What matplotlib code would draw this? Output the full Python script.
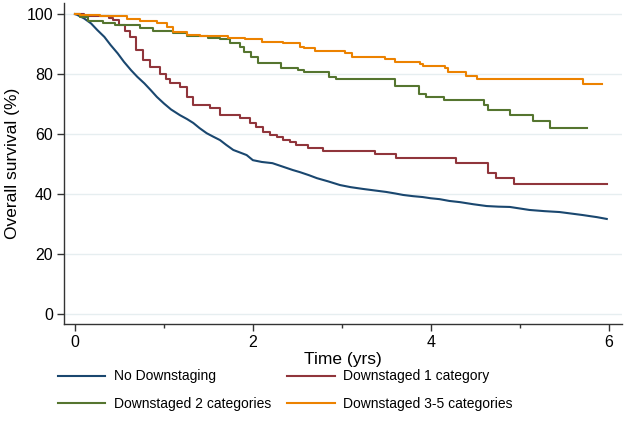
#!/usr/bin/env python3

import matplotlib
matplotlib.use("Agg")
import matplotlib.pyplot as plt

plt.rcParams['font.family'] = ['Liberation Sans', 'DejaVu Sans']

# Kaplan-Meier curves (time in years, survival in %)
t_none = [0, 0.02, 0.1, 0.18, 0.25, 0.33, 0.4, 0.48, 0.55, 0.63, 0.7, 0.78, 0.85, 0.92,
          1.0, 1.08, 1.18, 1.26, 1.33, 1.4, 1.48, 1.55, 1.63, 1.7, 1.78, 1.86, 1.93, 2.0,
          2.1, 2.22, 2.33, 2.45, 2.53, 2.63, 2.72, 2.85, 2.98, 3.1, 3.24, 3.37, 3.5,
          3.6, 3.69, 3.8, 3.91, 4.0, 4.1, 4.21, 4.33, 4.48, 4.63, 4.76, 4.89, 5.0,
          5.11, 5.28, 5.45, 5.58, 5.71, 5.8, 5.87, 5.98]
s_none = [100, 99.8, 98.6, 96.9, 94.7, 92.4, 89.7, 86.9, 84.1, 81.3, 79.1, 76.9, 74.7, 72.4,
          70.2, 68.2, 66.3, 65, 63.7, 62, 60.3, 59.2, 58, 56.4, 54.7, 53.8, 53, 51.3,
          50.7, 50.3, 49.2, 48, 47.3, 46.3, 45.3, 44.2, 43, 42.3, 41.7, 41.2, 40.7,
          40.2, 39.7, 39.3, 39, 38.6, 38.3, 37.7, 37.3, 36.6, 36, 35.8, 35.7, 35.2,
          34.7, 34.3, 34, 33.5, 33, 32.6, 32.3, 31.7]

t_one = [0, 0.1, 0.32, 0.38, 0.43, 0.5, 0.56, 0.62, 0.69, 0.77, 0.84, 0.96, 1.02, 1.07,
         1.18, 1.26, 1.33, 1.52, 1.63, 1.85, 1.97, 2.04, 2.11, 2.19, 2.27, 2.34, 2.42,
         2.49, 2.62, 2.79, 3.37, 3.61, 4.29, 4.64, 4.73, 4.94, 5.98]
s_one = [100, 99.3, 99.3, 98.6, 98, 96.3, 94.3, 92.3, 88, 84.7, 82.3, 80, 78.3, 77,
         75.7, 72.3, 69.7, 68.7, 66.3, 65.3, 63.7, 62.3, 60.7, 59.8, 59, 58.1, 57.3,
         56.3, 55.3, 54.3, 53.3, 52, 50.3, 47, 45.3, 43.3, 43.3]

t_two = [0, 0.06, 0.15, 0.32, 0.45, 0.73, 0.88, 1.1, 1.26, 1.5, 1.63, 1.74, 1.85, 1.9,
         1.98, 2.06, 2.32, 2.51, 2.58, 2.86, 2.94, 3.6, 3.87, 3.95, 4.15, 4.6, 4.65,
         4.89, 5.15, 5.34, 5.76]
s_two = [100, 99, 97.7, 97, 96.3, 95.3, 94.3, 93.7, 92.7, 92, 91.7, 90.3, 89, 87.3,
         85.7, 83.7, 82, 81.5, 80.7, 79, 78.3, 76, 73.5, 72.3, 71.3, 69.7, 68,
         66.3, 64.3, 62, 62]

t_three = [0, 0.06, 0.28, 0.58, 0.73, 0.92, 1.03, 1.1, 1.26, 1.4, 1.72, 1.91, 2.1, 2.34,
           2.53, 2.58, 2.7, 3.04, 3.12, 3.49, 3.6, 3.88, 3.91, 4.16, 4.2, 4.4, 4.52,
           5.71, 5.93]
s_three = [100, 99.7, 99.3, 98.3, 97.7, 97, 95.7, 94, 93, 92.7, 92, 91.7, 90.7, 90.3,
           89, 88.7, 87.7, 87, 85.7, 85, 84, 83.3, 82.7, 82, 80.7, 79.3, 78.3,
           76.7, 76.7]

labels = ['No Downstaging', 'Downstaged 1 category',
          'Downstaged 2 categories', 'Downstaged 3-5 categories']
colors = ['#1a476f', '#90353b', '#55752f', '#ec8200']
# the big group has so many events its curve looks smooth
styles = ['default', 'steps-post', 'steps-post', 'steps-post']

fig = plt.figure(figsize=(6.25, 4.3), dpi=100)
ax = fig.add_axes([0.1024, 0.2465, 0.8926, 0.7465])

series = [(t_none, s_none), (t_one, s_one), (t_two, s_two), (t_three, s_three)]
lines = []
for (t, s), lab, col, ds in zip(series, labels, colors, styles):
    ln, = ax.plot(t, s, drawstyle=ds, color=col, lw=1.5, label=lab)
    lines.append(ln)

ax.set_xlim(-0.124, 6.15)
ax.set_ylim(-3.33, 103.7)
ax.set_xticks([0, 2, 4, 6])
ax.set_xticks([1, 3, 5], minor=True)
ax.set_yticks([0, 20, 40, 60, 80, 100])
ax.yaxis.grid(True, color='#e6eef0', lw=1)
ax.set_axisbelow(True)

for side in ['top', 'right']:
    ax.spines[side].set_visible(False)
for side in ['left', 'bottom']:
    ax.spines[side].set_color('#333333')
    ax.spines[side].set_linewidth(1)

ax.tick_params(axis='both', which='major', length=5, width=1, color='#333333',
               labelsize=11.5, labelcolor='black', pad=3)
ax.tick_params(axis='x', which='minor', length=3, width=1, color='#333333')

ax.set_xlabel('Time (yrs)', fontsize=12.5, labelpad=1)
ax.set_ylabel('Overall survival (%)', fontsize=12.5)
ax.yaxis.set_label_coords(-0.079, 0.5)

# Legend below the axes, two columns filled row by row
order = [0, 2, 1, 3]
fig.legend([lines[i] for i in order], [labels[i] for i in order],
           ncol=2, frameon=False, fontsize=10,
           loc='upper left', bbox_to_anchor=(0.072, 0.170),
           handlelength=3.45, handletextpad=0.6, columnspacing=1.15,
           labelspacing=0.95)

plt.savefig('out.png', dpi=100)
